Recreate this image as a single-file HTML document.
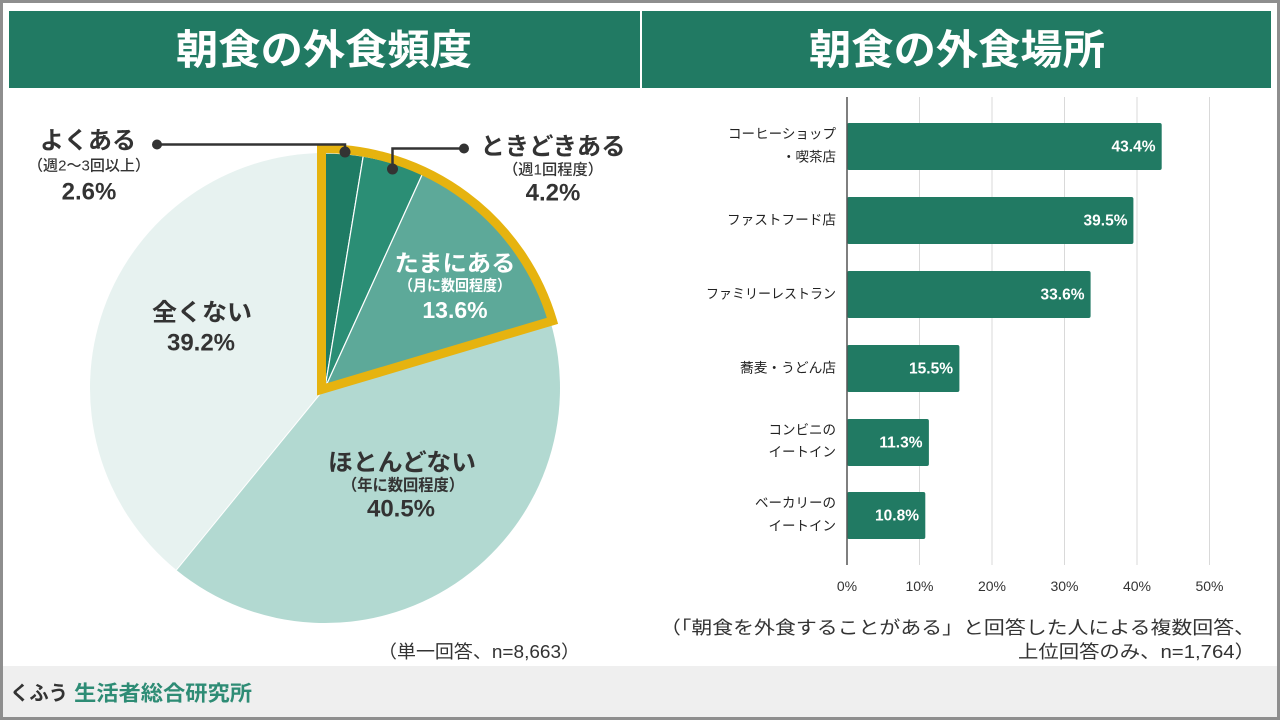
<!DOCTYPE html>
<html lang="ja">
<head>
<meta charset="utf-8">
<style>
html,body{margin:0;padding:0;background:#fff;}
svg{display:block;}
text{font-family:"Liberation Sans","Noto Sans CJK JP",sans-serif;}
</style>
</head>
<body>
<svg width="1280" height="720" viewBox="0 0 1280 720" xmlns="http://www.w3.org/2000/svg">
  <rect x="0" y="0" width="1280" height="720" fill="#ffffff"/>

  <!-- Title bars -->
  <rect x="9" y="11" width="631" height="77" fill="#217a63"/>
  <rect x="642" y="11" width="629" height="77" fill="#217a63"/>
  <text x="324" y="50" dominant-baseline="central" text-anchor="middle" font-size="41" font-weight="700" fill="#ffffff" textLength="296" lengthAdjust="spacingAndGlyphs">朝食の外食頻度</text>
  <text x="957" y="50" dominant-baseline="central" text-anchor="middle" font-size="41" font-weight="700" fill="#ffffff" textLength="296" lengthAdjust="spacingAndGlyphs">朝食の外食場所</text>

  <!-- Pie -->
  <g stroke="#ffffff" stroke-width="1.2" stroke-linejoin="round">
    <path d="M325,388 L325,153 A235,235 0 0 1 363.22,156.13 Z" fill="#1f7b64"/>
    <path d="M325,388 L363.22,156.13 A235,235 0 0 1 422.38,174.12 Z" fill="#2b8e75"/>
    <path d="M325,388 L422.38,174.12 A235,235 0 0 1 550.25,321.02 Z" fill="#5da999"/>
    <path d="M325,388 L550.25,321.02 A235,235 0 0 1 176.35,570.01 Z" fill="#b2d9d1" stroke="none"/>
    <path d="M325,388 L176.35,570.01 A235,235 0 0 1 325,153 Z" fill="#e7f2f0" stroke="none"/>
  </g>
  <line x1="325" y1="388" x2="176.35" y2="570.01" stroke="#ffffff" stroke-width="1"/>
  <!-- highlight outline -->
  <path d="M321.5,389.5 L321.5,148.5 A241,241 0 0 1 552.5,320.8 Z" fill="none" stroke="#e6b30f" stroke-width="9" stroke-linejoin="miter" stroke-miterlimit="10"/>

  <!-- Leader lines -->
  <path d="M157,144.5 H345 V152" fill="none" stroke="#333333" stroke-width="2.5"/>
  <circle cx="157" cy="144.5" r="5" fill="#333333"/>
  <circle cx="345" cy="152" r="5.5" fill="#333333"/>
  <path d="M464,148.5 H392.5 V169" fill="none" stroke="#333333" stroke-width="2.5"/>
  <circle cx="464" cy="148.5" r="5" fill="#333333"/>
  <circle cx="392.5" cy="169" r="5.5" fill="#333333"/>

  <!-- Pie labels -->
  <g text-anchor="middle" dominant-baseline="central" fill="#333333" font-weight="700">
    <text x="88" y="141" font-size="24" textLength="96" lengthAdjust="spacingAndGlyphs">よくある</text>
    <text x="89" y="166" font-size="15" font-weight="500" textLength="122" lengthAdjust="spacingAndGlyphs">（週2〜3回以上）</text>
    <text x="89" y="192" font-size="24">2.6%</text>

    <text x="553" y="147" font-size="24" textLength="145" lengthAdjust="spacingAndGlyphs">ときどきある</text>
    <text x="553" y="170" font-size="15" font-weight="500" textLength="100" lengthAdjust="spacingAndGlyphs">（週1回程度）</text>
    <text x="553" y="193" font-size="24">4.2%</text>

    <text x="202" y="313" font-size="24" textLength="100" lengthAdjust="spacingAndGlyphs">全くない</text>
    <text x="201" y="343" font-size="24">39.2%</text>

    <text x="402" y="463" font-size="24" textLength="148" lengthAdjust="spacingAndGlyphs">ほとんどない</text>
    <text x="403" y="486" font-size="16" textLength="122" lengthAdjust="spacingAndGlyphs">（年に数回程度）</text>
    <text x="401" y="509" font-size="24">40.5%</text>
  </g>
  <g text-anchor="middle" dominant-baseline="central" fill="#ffffff" font-weight="700">
    <text x="455" y="263" font-size="23" textLength="121" lengthAdjust="spacingAndGlyphs">たまにある</text>
    <text x="455" y="286" font-size="15" textLength="112" lengthAdjust="spacingAndGlyphs">（月に数回程度）</text>
    <text x="455" y="310" font-size="23">13.6%</text>
  </g>

  <!-- Bar chart grid -->
  <g stroke="#d9d9d9" stroke-width="1">
    <line x1="919.5" y1="97" x2="919.5" y2="565"/>
    <line x1="992" y1="97" x2="992" y2="565"/>
    <line x1="1064.5" y1="97" x2="1064.5" y2="565"/>
    <line x1="1137" y1="97" x2="1137" y2="565"/>
    <line x1="1209.5" y1="97" x2="1209.5" y2="565"/>
  </g>

  <!-- Bars -->
  <g fill="#217a63">
    <rect x="847" y="123" width="314.7" height="47" rx="2"/>
    <rect x="847" y="197" width="286.4" height="47" rx="2"/>
    <rect x="847" y="271" width="243.6" height="47" rx="2"/>
    <rect x="847" y="345" width="112.4" height="47" rx="2"/>
    <rect x="847" y="419" width="81.9" height="47" rx="2"/>
    <rect x="847" y="492" width="78.3" height="47" rx="2"/>
  </g>
  <line x1="847" y1="97" x2="847" y2="565" stroke="#555555" stroke-width="1.5"/>

  <!-- Bar values -->
  <g text-anchor="end" dominant-baseline="central" fill="#ffffff" font-weight="700" font-size="15.5">
    <text x="1155.5" y="147">43.4%</text>
    <text x="1127.5" y="221">39.5%</text>
    <text x="1084.5" y="295">33.6%</text>
    <text x="953" y="369">15.5%</text>
    <text x="922.5" y="443">11.3%</text>
    <text x="919" y="516">10.8%</text>
  </g>

  <!-- Category labels -->
  <g text-anchor="end" dominant-baseline="central" fill="#222222" font-size="13.5">
    <text x="836" y="134" textLength="108" lengthAdjust="spacingAndGlyphs">コーヒーショップ</text>
    <text x="836" y="157">・喫茶店</text>
    <text x="836" y="220" textLength="109" lengthAdjust="spacingAndGlyphs">ファストフード店</text>
    <text x="836" y="294" textLength="130" lengthAdjust="spacingAndGlyphs">ファミリーレストラン</text>
    <text x="836" y="368" textLength="96" lengthAdjust="spacingAndGlyphs">蕎麦・うどん店</text>
    <text x="836" y="430">コンビニの</text>
    <text x="836" y="452">イートイン</text>
    <text x="836" y="503">ベーカリーの</text>
    <text x="836" y="526">イートイン</text>
  </g>

  <!-- Tick labels -->
  <g text-anchor="middle" dominant-baseline="central" fill="#333333" font-size="14">
    <text x="847" y="586">0%</text>
    <text x="919.5" y="586">10%</text>
    <text x="992" y="586">20%</text>
    <text x="1064.5" y="586">30%</text>
    <text x="1137" y="586">40%</text>
    <text x="1209.5" y="586">50%</text>
  </g>

  <!-- Notes -->
  <g dominant-baseline="central" fill="#333333" font-size="18">
    <text x="378" y="652" textLength="202" lengthAdjust="spacingAndGlyphs">（単一回答、n=8,663）</text>
    <text x="660" y="628" textLength="595" lengthAdjust="spacingAndGlyphs">（「朝食を外食することがある」と回答した人による複数回答、</text>
    <text x="1018" y="652" textLength="237" lengthAdjust="spacingAndGlyphs">上位回答のみ、n=1,764）</text>
  </g>

  <!-- Footer -->
  <rect x="0" y="666" width="1280" height="51" fill="#efefef"/>
  <text x="10" y="694" dominant-baseline="central" font-size="20" font-weight="700" fill="#333333" textLength="58" lengthAdjust="spacingAndGlyphs">くふう</text>
  <text x="74" y="694" dominant-baseline="central" font-size="21" font-weight="700" fill="#2e8c75" textLength="178" lengthAdjust="spacingAndGlyphs">生活者総合研究所</text>

  <!-- Outer border -->
  <rect x="1.5" y="1.5" width="1277" height="717" fill="none" stroke="#8e8e8e" stroke-width="3"/>
</svg>
</body>
</html>
